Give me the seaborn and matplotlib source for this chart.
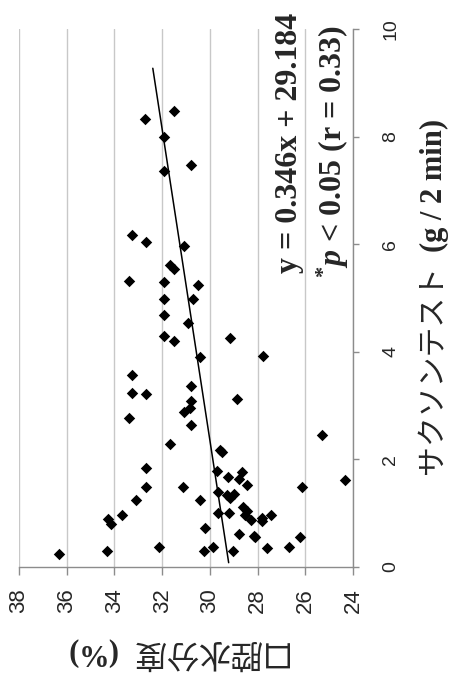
import matplotlib
matplotlib.use("Agg")
import matplotlib.pyplot as plt
import seaborn as sns
import numpy as np
import pandas as pd

# ---- data ----
moisture = [32.71, 31.52, 31.92, 31.92, 30.80, 33.27, 32.69, 31.10, 33.41, 31.66,
            31.52, 31.92, 30.48, 31.92, 30.71, 31.92, 30.90, 31.92, 31.52, 29.15,
            30.43, 27.78, 33.27, 33.27, 32.69, 33.41, 30.80, 30.80, 30.83, 31.10,
            30.80, 28.87, 31.69, 29.59, 29.50, 25.30, 32.69, 32.69, 33.09, 31.13,
            29.68, 29.22, 28.66, 28.76, 28.45, 29.64, 29.15, 29.00, 29.29, 30.43,
            26.14, 24.32, 33.69, 34.25, 34.15, 29.64, 29.18, 28.62, 28.45, 28.52,
            28.28, 27.82, 27.82, 27.44, 30.20, 28.76, 28.17, 28.10, 26.24, 36.31,
            34.32, 32.15, 29.85, 30.24, 29.04, 27.61, 26.70]
saxon = [8.33, 8.48, 8.00, 7.36, 7.48, 6.17, 6.05, 5.97, 5.31, 5.61,
         5.54, 5.29, 5.25, 4.99, 4.98, 4.69, 4.54, 4.30, 4.21, 4.25,
         3.90, 3.93, 3.57, 3.24, 3.21, 2.77, 3.37, 3.08, 2.96, 2.89,
         2.64, 3.13, 2.28, 2.17, 2.14, 2.45, 1.84, 1.49, 1.24, 1.49,
         1.79, 1.68, 1.76, 1.64, 1.53, 1.40, 1.28, 1.36, 1.34, 1.24,
         1.48, 1.61, 0.96, 0.89, 0.80, 1.00, 1.00, 1.12, 1.04, 0.96,
         0.88, 0.92, 0.86, 0.96, 0.73, 0.62, 0.58, 0.56, 0.56, 0.24,
         0.30, 0.38, 0.38, 0.30, 0.30, 0.36, 0.38]
slope = 0.346
intercept = 29.184
fit_range = [0.08, 9.27]
moisture_ticks = [38, 36, 34, 32, 30, 28, 26, 24]
saxon_ticks = [0, 2, 4, 6, 8, 10]
eq_text = "y = 0.346x + 29.184"
p_text = r"$^{*}p$ < 0.05 (r = 0.33)"
xlabel_jp = "サクソンテスト"
xlabel_unit = "(g / 2 min)"
ylabel_jp = "口腔水分度"
ylabel_unit = "(%)"

df = pd.DataFrame({"moisture": moisture, "saxon": saxon})
fit_s = np.array(fit_range)
fit_df = pd.DataFrame({"saxon": fit_s, "moisture": slope * fit_s + intercept})

sns.set_theme(style="white")
plt.rcParams["font.family"] = ["Liberation Sans", "DejaVu Sans"]
plt.rcParams["mathtext.fontset"] = "custom"
plt.rcParams["mathtext.rm"] = "Liberation Serif:bold"
plt.rcParams["mathtext.it"] = "Liberation Serif:italic:bold"
plt.rcParams["mathtext.bf"] = "Liberation Serif:bold"

W, H = 449, 675
fig = plt.figure(figsize=(W / 100, H / 100), dpi=100)
ax = fig.add_axes([19 / W, 1 - 567 / H, (353 - 19) / W, (567 - 29) / H])

sns.scatterplot(data=df, x="moisture", y="saxon", marker="D", color="black",
                s=34, edgecolor="black", linewidth=0, ax=ax, zorder=3)
sns.lineplot(data=fit_df, x="moisture", y="saxon", color="black", linewidth=1.1,
             sort=False, estimator=None, ax=ax, zorder=4)

ax.set_xlim(38, 24)
ax.set_ylim(0, 10)
ax.set_xticks(moisture_ticks)
ax.set_yticks(saxon_ticks)
ax.yaxis.tick_right()
ax.grid(axis="x", color="#c8c8c8", linewidth=1.0)
ax.grid(axis="y", visible=False)
for side in ["top", "left"]:
    ax.spines[side].set_visible(False)
for side in ["bottom", "right"]:
    ax.spines[side].set_color("#8c8c8c")
    ax.spines[side].set_linewidth(1.0)
ax.tick_params(axis="x", direction="out", length=6, width=1, color="#8c8c8c",
               pad=9, labelsize=16, labelrotation=90, bottom=True)
ax.tick_params(axis="y", direction="out", length=4, width=1, color="#8c8c8c",
               pad=17, labelsize=14, labelrotation=90, right=True, left=False)
for lab in ax.get_yticklabels():
    lab.set_va("center")
ax.set_xlabel("")
ax.set_ylabel("")

def fx(px):
    return px / W

def fy(py):
    return 1 - py / H

fig.text(fx(290), fy(143), eq_text, rotation=90, ha="center", va="center",
         fontsize=23, fontweight="bold", family="Liberation Serif")
fig.text(fx(333), fy(152), p_text, rotation=90, ha="center", va="center",
         fontsize=23, fontweight="bold", family="Liberation Serif")

fig.text(fx(433), fy(474), xlabel_jp, rotation=90, ha="center", va="bottom",
         fontsize=21.5, family=["Noto Sans CJK JP"])
fig.text(fx(434), fy(252), xlabel_unit, rotation=90, ha="center", va="bottom",
         fontsize=22, fontweight="bold", family="Liberation Serif")

fig.text(fx(206), fy(652), ylabel_jp, rotation=180, ha="center", va="center",
         fontsize=23, family=["Noto Sans CJK JP"])
fig.text(fx(91), fy(652), ylabel_unit, rotation=180, ha="center", va="center",
         fontsize=22, fontweight="bold", family="Liberation Serif")

fig.savefig("out.png", dpi=100)
